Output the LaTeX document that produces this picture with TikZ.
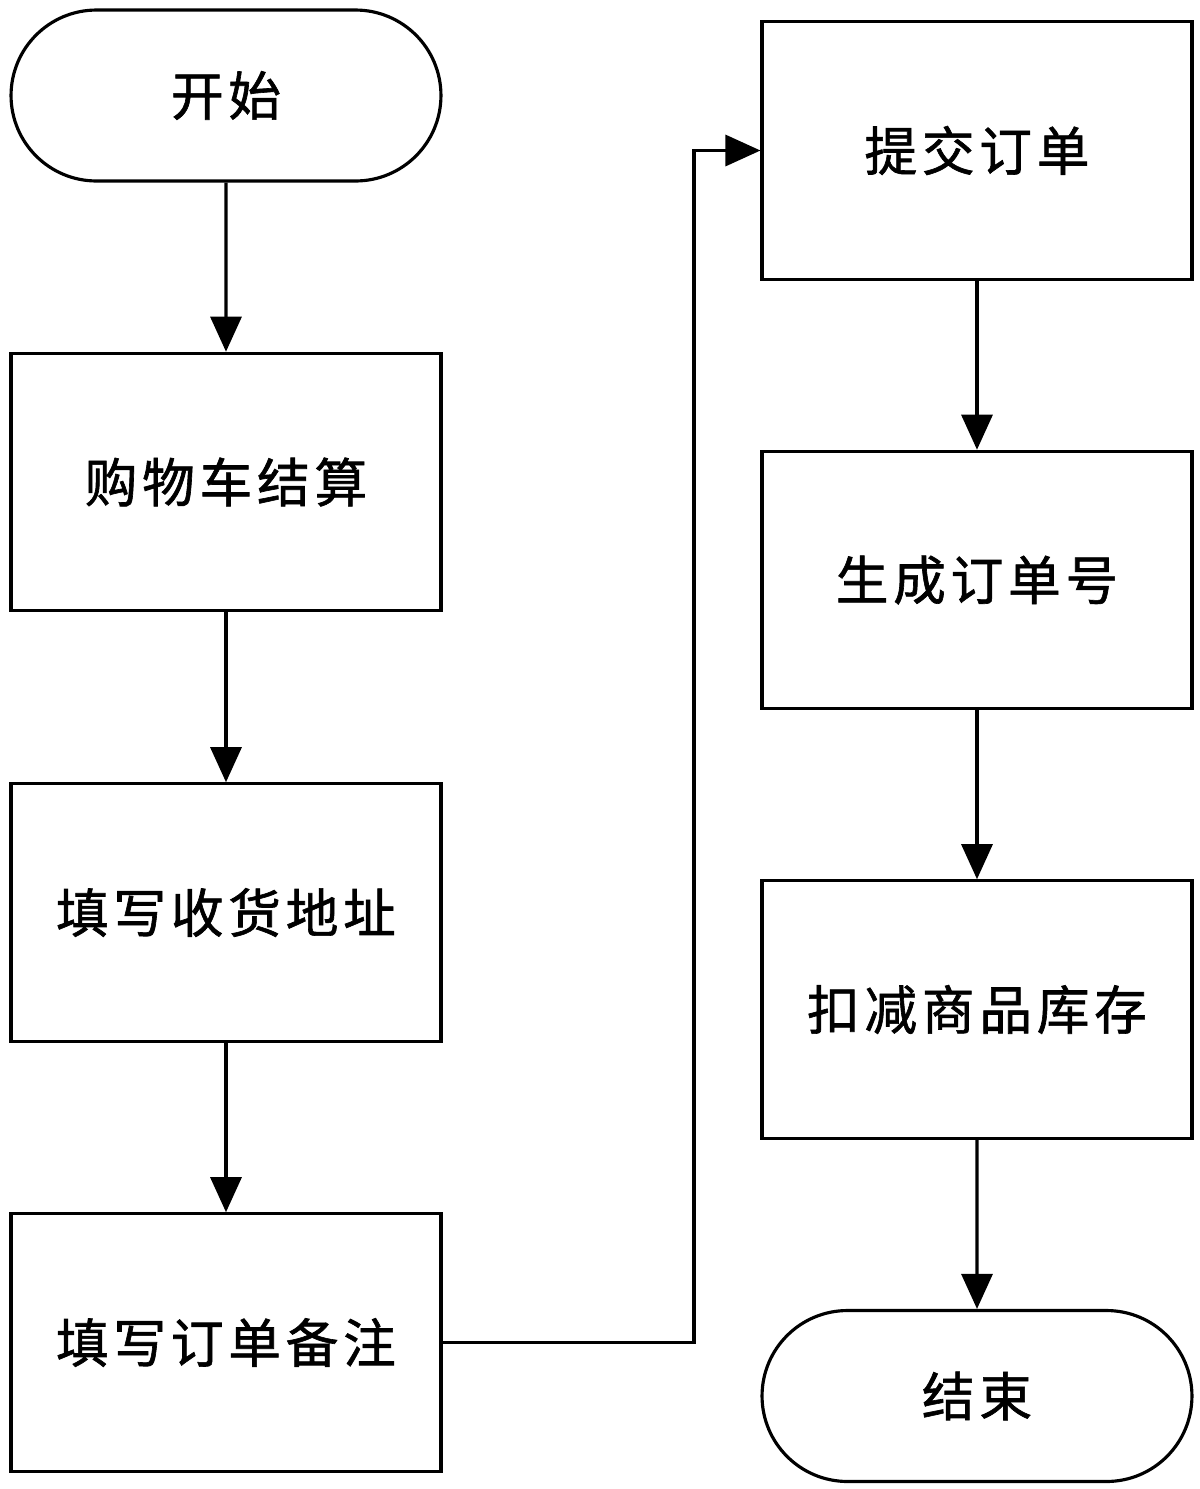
\documentclass[tikz,border=0pt]{standalone}
\usepackage{fontspec}
\newfontfamily\cjk[FakeBold=1.2,LetterSpace=9]{Noto Sans CJK SC}
\usetikzlibrary{positioning,arrows.meta,shapes.misc}
\tikzset{
	stepbox/.style={draw,line width=1.8pt,minimum width=8.6cm,minimum height=5.15cm,inner sep=0pt,font=\cjk\fontsize{30}{34}\selectfont},
	termbox/.style={stepbox,rounded rectangle,minimum height=3.42cm},
	flow/.style={line width=1.8pt,-{Triangle[length=0.7cm,width=0.62cm]}}
}
\begin{document}
\begin{tikzpicture}[x=0.02cm,y=-0.02cm]
	\useasboundingbox (0,0) rectangle (1200,1489);
	%left column
	\node[termbox] (start) at (226,95.5)  {开始};
	\node[stepbox] (cart)  at (226,482)   {购物车结算};
	\node[stepbox] (addr)  at (226,912.5) {填写收货地址};
	\node[stepbox] (note)  at (226,1342.5){填写订单备注};
	%right column
	\node[stepbox] (submit) at (977,150.5)  {提交订单};
	\node[stepbox] (number) at (977,580)    {生成订单号};
	\node[stepbox] (stock)  at (977,1009.5) {扣减商品库存};
	\node[termbox] (end)    at (977,1396)   {结束};
	\coordinate (turnlo) at (694,1342.5);
	\coordinate (turnhi) at (694,150.5);
	
	%arrows
	\draw[flow] (start) -- (cart);
	\draw[flow] (cart) -- (addr);
	\draw[flow] (addr) -- (note);
	\draw[flow] (note.east) -- (turnlo) -- (turnhi) -- (submit.west);
	\draw[flow] (submit) -- (number);
	\draw[flow] (number) -- (stock);
	\draw[flow] (stock) -- (end);
\end{tikzpicture}
\end{document}
